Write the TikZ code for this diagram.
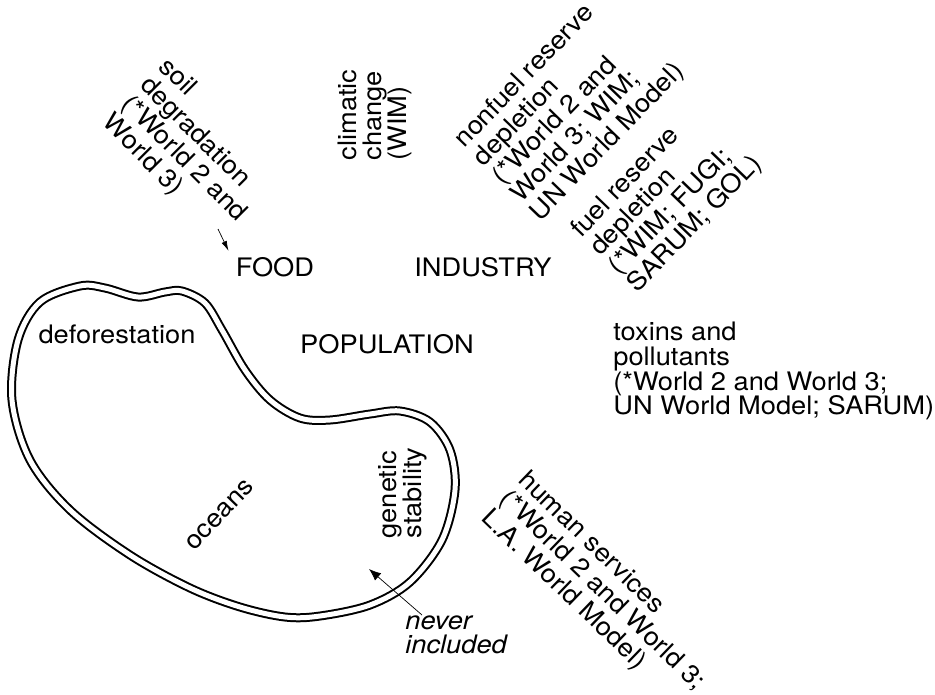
\documentclass[tikz,border=0pt]{standalone}
\usepackage{fontspec}
\setmainfont{TeX Gyre Heros}[FakeStretch=1.07]
\usepackage{tikz}
\usetikzlibrary{arrows.meta}

\begin{document}
\begin{tikzpicture}[x=0.02cm,y=-0.02cm,font=\fontsize{14.5}{14}\selectfont,>={Latex[length=0.24cm,width=0.19cm]}]
\tikzstyle{t}=[align=left,inner sep=0pt]
\tikzstyle{vert}=[t,rotate=90]
\tikzstyle{diagup}=[t,rotate=46,font=\fontsize{14.5}{15}\selectfont]
\tikzstyle{diagdn}=[t,rotate=-45,font=\fontsize{14.5}{15}\selectfont]
\tikzstyle{bean}=[draw,line width=0.04cm,double distance=0.1cm]
\useasboundingbox (0,0) rectangle (935,694);
% the sectors
\node[t] (food) at (275,267) {FOOD};
\node[t] (ind) at (483,267) {INDUSTRY};
\node[t] (pop) at (387,344) {POPULATION};
% limits that the models take in
\node[diagdn] (soil) at (193,150) {soil\\degradation\\(*World 2 and\\World 3)};
\node[vert] (clim) at (375,115) {climatic\\change\\(WIM)};
\node[diagup] (nonfuel) at (570,106) {nonfuel reserve\\depletion\\(*World 2 and\\World 3; WIM;\\UN World Model)};
\node[diagup] (fuel) at (667,197) {fuel reserve\\depletion\\(*WIM; FUGI;\\SARUM; GOL)};
\node[t,anchor=north west] (tox) at (613,322) {toxins and\\pollutants\\(*World 2 and World 3;\\UN World Model; SARUM)};
\node[diagdn,rotate=1] (human) at (602,591) {human services\\(*World 2 and World 3;\\L.A. World Model)};
\coordinate (soiltail) at (218,229);
\draw[-{Latex[length=0.2cm,width=0.11cm]}] (soiltail) -- ([xshift=-0.14cm,yshift=0.12cm]food.north west);
% limits never included
\draw[bean] plot[smooth cycle,tension=0.55] coordinates {(12,400) (18,340) (40,302) (80,286) (105,288) (138,297) (165,292) (182,291) (205,303) (222,330) (245,370) (270,400) (300,418) (330,420) (370,414) (400,411) (430,422) (450,450) (455,490) (442,540) (410,582) (370,605) (320,616) (285,617) (240,607) (190,588) (130,555) (70,510) (30,460)};
\node[t] (defor) at (117,334) {deforestation};
\node[diagup] (oceans) at (220,515) {oceans};
\node[vert] (gen) at (403,493) {genetic\\stability};
\node[t,anchor=north west,font=\fontsize{14.5}{14}\selectfont\itshape] (never) at (405,615) {never\\included};
\coordinate (gap) at (369,569);
\draw[->] ([xshift=0.34cm]never.north west) -- (gap);
\end{tikzpicture}
\end{document}
